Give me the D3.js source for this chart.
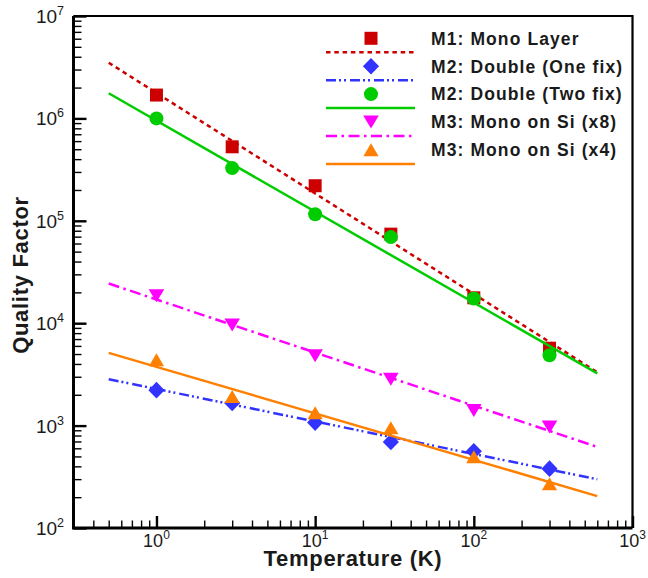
<!DOCTYPE html>
<html>
<head>
<meta charset="utf-8">
<script src="https://cdn.jsdelivr.net/npm/d3@7"></script>
<style>
    body { margin: 0; background: #fff; }
    svg { display: block; font-family: "Liberation Sans", Arial, Helvetica, sans-serif; }
</style>
</head>
<body>
<svg width="648" height="578"></svg>
<script>

// measured temperatures (K) and the two end points of each fitted line
var temps = [1, 3, 10, 30, 100, 300];
var fitTemps = [0.5, 600];

var seriesNames = ["M1: Mono Layer", "M2: Double (One fix)", "M2: Double (Two fix)",
    "M3: Mono on Si (x8)", "M3: Mono on Si (x4)"];

var m1Mono = [1.69e6, 5.28e5, 2.20e5, 7.41e4, 1.77e4, 5.70e3];
var m1MonoFit = [3.50e6, 3.32e3];
var m2One = [2.22e3, 1.66e3, 1.07e3, 692, 561, 380];
var m2OneFit = [2.84e3, 299];
var m2Two = [1.0e6, 3.27e5, 1.16e5, 6.93e4, 1.74e4, 4.87e3];
var m2TwoFit = [1.76e6, 3.23e3];
var m3x8 = [1.86e4, 9.63e3, 4.81e3, 2.84e3, 1.41e3, 970];
var m3x8Fit = [2.44e4, 619];
var m3x4 = [4.38e3, 1.92e3, 1.33e3, 953, 496, 270];
var m3x4Fit = [5.13e3, 205];

var xMajorTicks = [1, 10, 100, 1000];
var xTickExp = ["0", "1", "2", "3"];
var yMajorTicks = [100, 1e3, 1e4, 1e5, 1e6, 1e7];
var yTickExp = ["2", "3", "4", "5", "6", "7"];

var pointSets = [m1Mono, m2One, m2Two, m3x8, m3x4];
var fitSets = [m1MonoFit, m2OneFit, m2TwoFit, m3x8Fit, m3x4Fit];

// look of each series
var colors = ["#cc0000", "#3333ff", "#00cc00", "#ff00ff", "#ff8000"];
var dashes = ["4.5,3.8", "10,3,2,3,2,4", null, "11,4.5,2.5,4.5", null];
var symbols = ["square", "diamond", "circle", "triDown", "triUp"];

function symbolPath(kind) {
    if (kind === "square")
        return "M-6.5,-6.5H6.5V6.5H-6.5Z";
    if (kind === "diamond")
        return "M0,-8.3L8.1,0L0,8.3L-8.1,0Z";
    if (kind === "circle")
        return "M7,0A7,7 0 1,1 -7,0A7,7 0 1,1 7,0Z";
    if (kind === "triUp")
        return "M0,-6.6L7.6,6.4L-7.6,6.4Z";
    return "M0,6.6L7.8,-6.4L-7.8,-6.4Z";
}

var svg = d3.select("svg"),
        pLeft = 73.5, pRight = 632.5, pTop = 16, pBottom = 528;

var x = d3.scaleLog().domain([0.3, 1000]).range([pLeft, pRight]);
var y = d3.scaleLog().domain([100, 1e7]).range([pBottom, pTop]);

var xMinor = x.ticks().filter(function (d) {
    return xMajorTicks.indexOf(d) < 0;
});
var yMinor = y.ticks().filter(function (d) {
    return yMajorTicks.indexOf(d) < 0;
});

// frame top / right
svg.append("path")
        .attr("d", "M" + pLeft + "," + pTop + "H" + pRight + "V" + pBottom)
        .attr("fill", "none")
        .attr("stroke", "#000")
        .attr("stroke-width", 2.2);

function styleAxis(g, w) {
    g.selectAll("line").attr("stroke", "#000").attr("stroke-width", w);
    g.select(".domain").remove();
}

svg.append("g").attr("transform", "translate(0," + pBottom + ")")
        .call(d3.axisBottom(x).tickValues(xMinor).tickSize(-7.5).tickSizeOuter(0).tickFormat(""))
        .call(styleAxis, 1.4);
svg.append("g").attr("transform", "translate(0," + pBottom + ")")
        .call(d3.axisBottom(x).tickValues(xMajorTicks).tickSize(-12).tickSizeOuter(0).tickFormat(""))
        .call(styleAxis, 2.4);
svg.append("g").attr("transform", "translate(" + pLeft + ",0)")
        .call(d3.axisLeft(y).tickValues(yMinor).tickSize(-8).tickSizeOuter(0).tickFormat(""))
        .call(styleAxis, 1.4);
svg.append("g").attr("transform", "translate(" + pLeft + ",0)")
        .call(d3.axisLeft(y).tickValues(yMajorTicks).tickSize(-13).tickSizeOuter(0).tickFormat(""))
        .call(styleAxis, 2.4);

// left and bottom axis lines
svg.append("path")
        .attr("d", "M" + pLeft + "," + pTop + "V" + pBottom + "H" + pRight)
        .attr("fill", "none")
        .attr("stroke", "#000")
        .attr("stroke-width", 3);

// tick labels 10^n
var xl = svg.append("g").selectAll("text")
        .data(xMajorTicks)
        .enter().append("text")
        .attr("x", function (d) {
            return x(d);
        })
        .attr("y", 547)
        .attr("text-anchor", "middle")
        .attr("fill", "#1a1a1a")
        .style("font-size", "18px");
xl.append("tspan").text("10");
xl.append("tspan").attr("dy", -8).style("font-size", "12px").text(function (d, i) {
    return xTickExp[i];
});

var yl = svg.append("g").selectAll("text")
        .data(yMajorTicks)
        .enter().append("text")
        .attr("x", 64)
        .attr("y", function (d) {
            return y(d) + 7;
        })
        .attr("text-anchor", "end")
        .attr("fill", "#1a1a1a")
        .style("font-size", "19px");
yl.append("tspan").text("10");
yl.append("tspan").attr("dy", -8).style("font-size", "12.5px").text(function (d, i) {
    return yTickExp[i];
});

// axis titles
svg.append("text")
        .attr("x", 353)
        .attr("y", 565.5)
        .attr("text-anchor", "middle")
        .attr("fill", "#1a1a1a")
        .style("font-size", "22px")
        .style("font-weight", "bold")
        .style("letter-spacing", "0.7px")
        .text("Temperature (K)");

svg.append("text")
        .attr("transform", "translate(27.5,275) rotate(-90)")
        .attr("text-anchor", "middle")
        .attr("fill", "#1a1a1a")
        .style("font-size", "22px")
        .style("font-weight", "bold")
        .style("letter-spacing", "0.7px")
        .text("Quality Factor");

// series: fitted line then measured points
var line = d3.line()
        .x(function (d) {
            return x(d[0]);
        })
        .y(function (d) {
            return y(d[1]);
        });

var plot = svg.append("g");
seriesNames.forEach(function (name, i) {
    plot.append("path")
            .datum(d3.zip(fitTemps, fitSets[i]))
            .attr("d", line)
            .attr("fill", "none")
            .attr("stroke", colors[i])
            .attr("stroke-width", 2.5)
            .attr("stroke-dasharray", dashes[i]);

    plot.append("g").selectAll("path")
            .data(d3.zip(temps, pointSets[i]))
            .enter().append("path")
            .attr("d", symbolPath(symbols[i]))
            .attr("transform", function (d) {
                return "translate(" + x(d[0]) + "," + y(d[1]) + ")";
            })
            .attr("fill", colors[i]);
});

// legend
var legend = svg.append("g").selectAll("g")
        .data(seriesNames)
        .enter().append("g")
        .attr("transform", function (d, i) {
            return "translate(0," + (38.3 + i * 27.9) + ")";
        });

legend.append("path")
        .attr("d", "M326,14H415")
        .attr("stroke", function (d, i) {
            return colors[i];
        })
        .attr("stroke-width", 2.5)
        .attr("stroke-dasharray", function (d, i) {
            return dashes[i];
        });

legend.append("path")
        .attr("d", function (d, i) {
            return symbolPath(symbols[i]);
        })
        .attr("transform", "translate(371,0)")
        .attr("fill", function (d, i) {
            return colors[i];
        });

legend.append("text")
        .attr("x", 431)
        .attr("y", 6.3)
        .attr("fill", "#1a1a1a")
        .style("font-size", "17.5px")
        .style("font-weight", "bold")
        .style("letter-spacing", "1.1px")
        .text(function (d) {
            return d;
        });

</script>
</body>
</html>
